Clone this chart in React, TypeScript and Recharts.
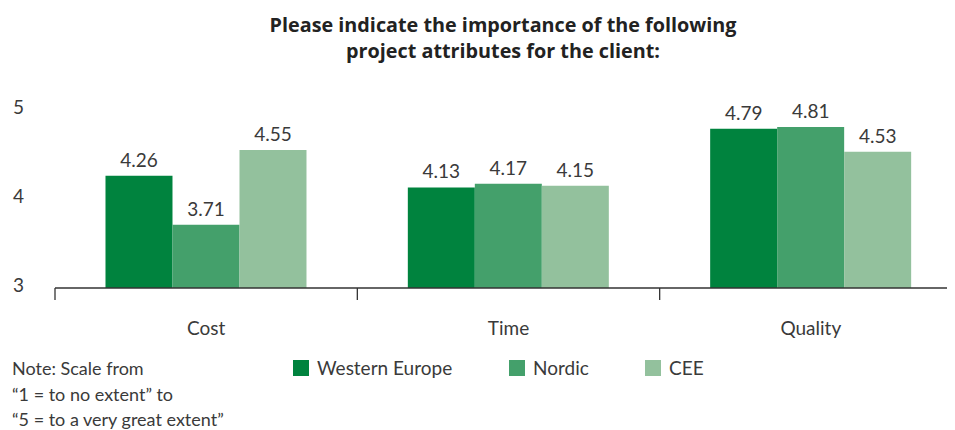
import React from 'react';
import { BarChart, Bar, XAxis, YAxis, LabelList } from 'recharts';

const categories = ['Cost', 'Time', 'Quality'];
const westernEurope = [4.26, 4.13, 4.79];
const nordic = [3.71, 4.17, 4.81];
const cee = [4.55, 4.15, 4.53];
const yTicks = [3, 4, 5];
const seriesNames = ['Western Europe', 'Nordic', 'CEE'];
const seriesKeys = ['we', 'nordic', 'cee'];
const colors = ['#00833E', '#44A06B', '#93C19D'];
const titleLines = ['Please indicate the importance of the following', 'project attributes for the client:'];
const noteLines = ['Note: Scale from', '\u201C1 = to no extent\u201D to', '\u201C5 = to a very great extent\u201D'];

const data = categories.map((c, i) => ({ category: c, we: westernEurope[i], nordic: nordic[i], cee: cee[i] }));

const FONT = 'Lato, "Open Sans", sans-serif';
const TEXT = '#3a3a3a';
const CHART_W = 960;
const CHART_H = 422;
const MARGIN = { top: 102, right: 6, left: 0, bottom: 102 };
const Y_W = 47;
const AXIS_Y = CHART_H - MARGIN.bottom - 40;
const BAND = (CHART_W - MARGIN.left - MARGIN.right - Y_W) / categories.length;

const XTick = (props: any) => {
  const { x, payload, index } = props;
  const left = x - BAND / 2;
  const right = x + BAND / 2;
  return (
    <g>
      <line x1={left} x2={left} y1={AXIS_Y} y2={AXIS_Y + 12} stroke="#333" strokeWidth={1.3} />
      {index === categories.length - 1 && (
        <line x1={right} x2={right} y1={AXIS_Y} y2={AXIS_Y + 12} stroke="#333" strokeWidth={1.3} />
      )}
      <text x={x} y={AXIS_Y + 47} textAnchor="middle" fontSize={19} fill={TEXT} fontFamily={FONT}>
        {payload.value}
      </text>
    </g>
  );
};

const YTick = (props: any) => {
  const { y, payload } = props;
  return (
    <text x={5} y={y - 3} dy="0.35em" textAnchor="start" fontSize={19} fill={TEXT} fontFamily={FONT}>
      {payload.value}
    </text>
  );
};

export default function App() {
  return (
    <div style={{ position: 'relative', width: 947, height: CHART_H, overflow: 'hidden', fontFamily: FONT }}>
      <div
        style={{
          position: 'absolute',
          top: 4,
          left: 0,
          width: 990,
          textAlign: 'center',
          fontWeight: 700,
          fontSize: 19.8,
          lineHeight: '26px',
          color: '#222',
          fontFamily: '"Open Sans", sans-serif',
        }}
      >
        {titleLines.map((l) => (
          <div key={l}>{l}</div>
        ))}
      </div>
      <BarChart width={CHART_W} height={CHART_H} data={data} margin={MARGIN} barGap={0} barCategoryGap="16.7%">
        <XAxis
          dataKey="category"
          height={40}
          axisLine={{ stroke: '#333', strokeWidth: 1.3 }}
          tickLine={false}
          tick={<XTick />}
          interval={0}
        />
        <YAxis
          width={Y_W}
          domain={[3, 5]}
          ticks={yTicks}
          axisLine={false}
          tickLine={false}
          tick={<YTick />}
          allowDataOverflow
        />
        {seriesKeys.map((k, i) => (
          <Bar key={k} dataKey={k} name={seriesNames[i]} fill={colors[i]} isAnimationActive={false}>
            <LabelList
              dataKey={k}
              position="top"
              offset={9}
              fontSize={19}
              fill={TEXT}
              fontFamily={FONT}
              formatter={(v: any) => Number(v).toFixed(2)}
            />
          </Bar>
        ))}
      </BarChart>
      <div style={{ position: 'absolute', top: 348, left: 4, fontSize: 18, lineHeight: '25.5px', color: TEXT }}>
        {noteLines.map((l) => (
          <div key={l}>{l}</div>
        ))}
      </div>
      {seriesNames.map((n, i) => (
        <div
          key={n}
          style={{
            position: 'absolute',
            top: 350,
            left: [285, 501, 637][i],
            display: 'flex',
            alignItems: 'center',
            fontSize: 19,
            color: TEXT,
            lineHeight: '20px',
          }}
        >
          <span style={{ display: 'inline-block', width: 16, height: 16, background: colors[i], marginRight: 8 }} />
          <span>{n}</span>
        </div>
      ))}
    </div>
  );
}
